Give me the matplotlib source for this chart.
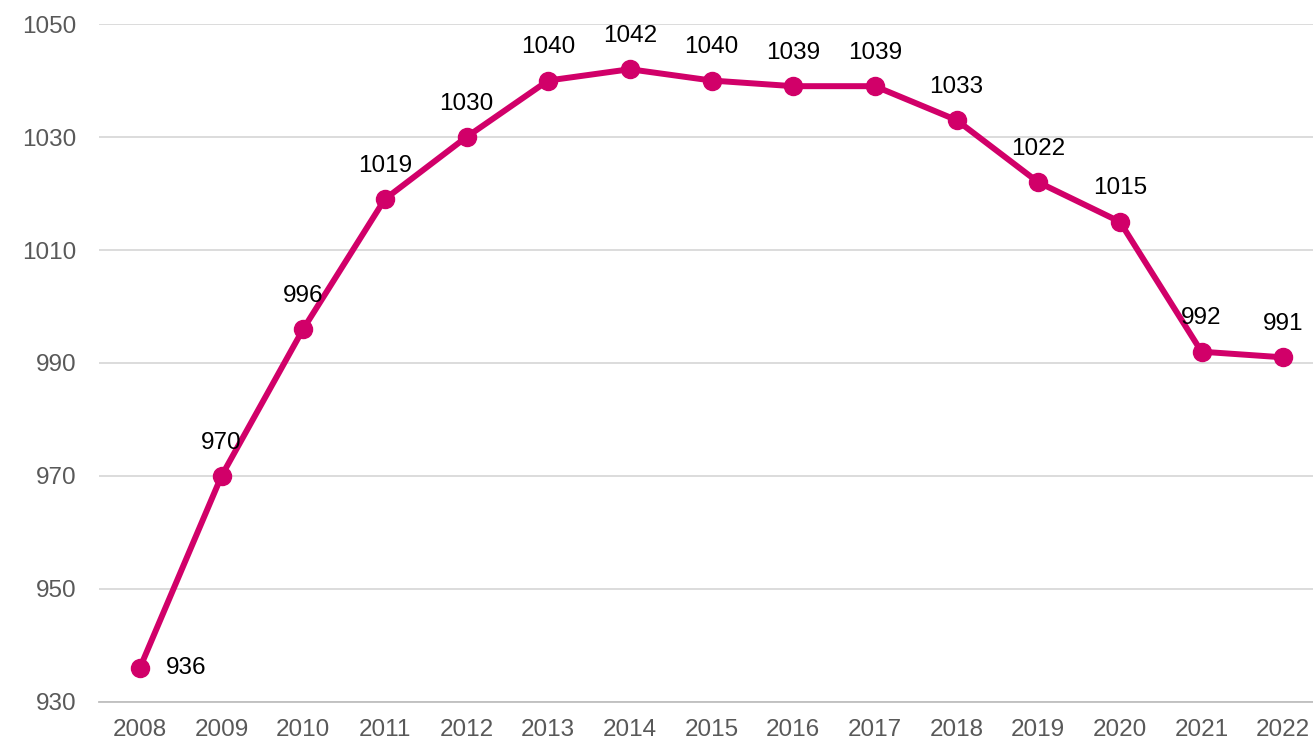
import matplotlib.pyplot as plt

years = ['2008', '2009', '2010', '2011', '2012', '2013', '2014', '2015',
         '2016', '2017', '2018', '2019', '2020', '2021', '2022']
values = [936, 970, 996, 1019, 1030, 1040, 1042, 1040, 1039, 1039,
          1033, 1022, 1015, 992, 991]
yticks = [930, 950, 970, 990, 1010, 1030, 1050]

plt.rcParams['font.family'] = ['Liberation Sans', 'DejaVu Sans']

fig = plt.figure(figsize=(13.13, 7.44), dpi=100)
ax = fig.add_axes([0.0754, 0.0565, 0.933, 0.9112])

x = list(range(len(years)))
color = '#D10069'
ax.plot(x, values, color=color, linewidth=4.3, marker='o', markersize=13,
        solid_capstyle='round', zorder=3)

for i, v in enumerate(values):
    if i == 0:
        ax.annotate(str(v), (i, v), xytext=(19, 0), textcoords='offset points',
                    ha='left', va='center', fontsize=17.5, color='black')
    else:
        ax.annotate(str(v), (i, v), xytext=(0, 24), textcoords='offset points',
                    ha='center', va='center', fontsize=17.5, color='black')

ax.set_xlim(-0.5, len(years) - 0.5)
ax.set_ylim(930, 1050)
ax.set_xticks(x)
ax.set_xticklabels(years)
ax.set_yticks(yticks)
ax.tick_params(axis='both', length=0, labelsize=17.5, colors='#595959')
ax.tick_params(axis='y', pad=16)
ax.tick_params(axis='x', pad=12)
ax.grid(axis='y', color='#d9d9d9', linewidth=1.3)
ax.set_axisbelow(True)
for s in ['top', 'right', 'left']:
    ax.spines[s].set_visible(False)
ax.spines['bottom'].set_color('#bfbfbf')
ax.spines['bottom'].set_linewidth(1.3)

fig.savefig('out.png', dpi=100)
